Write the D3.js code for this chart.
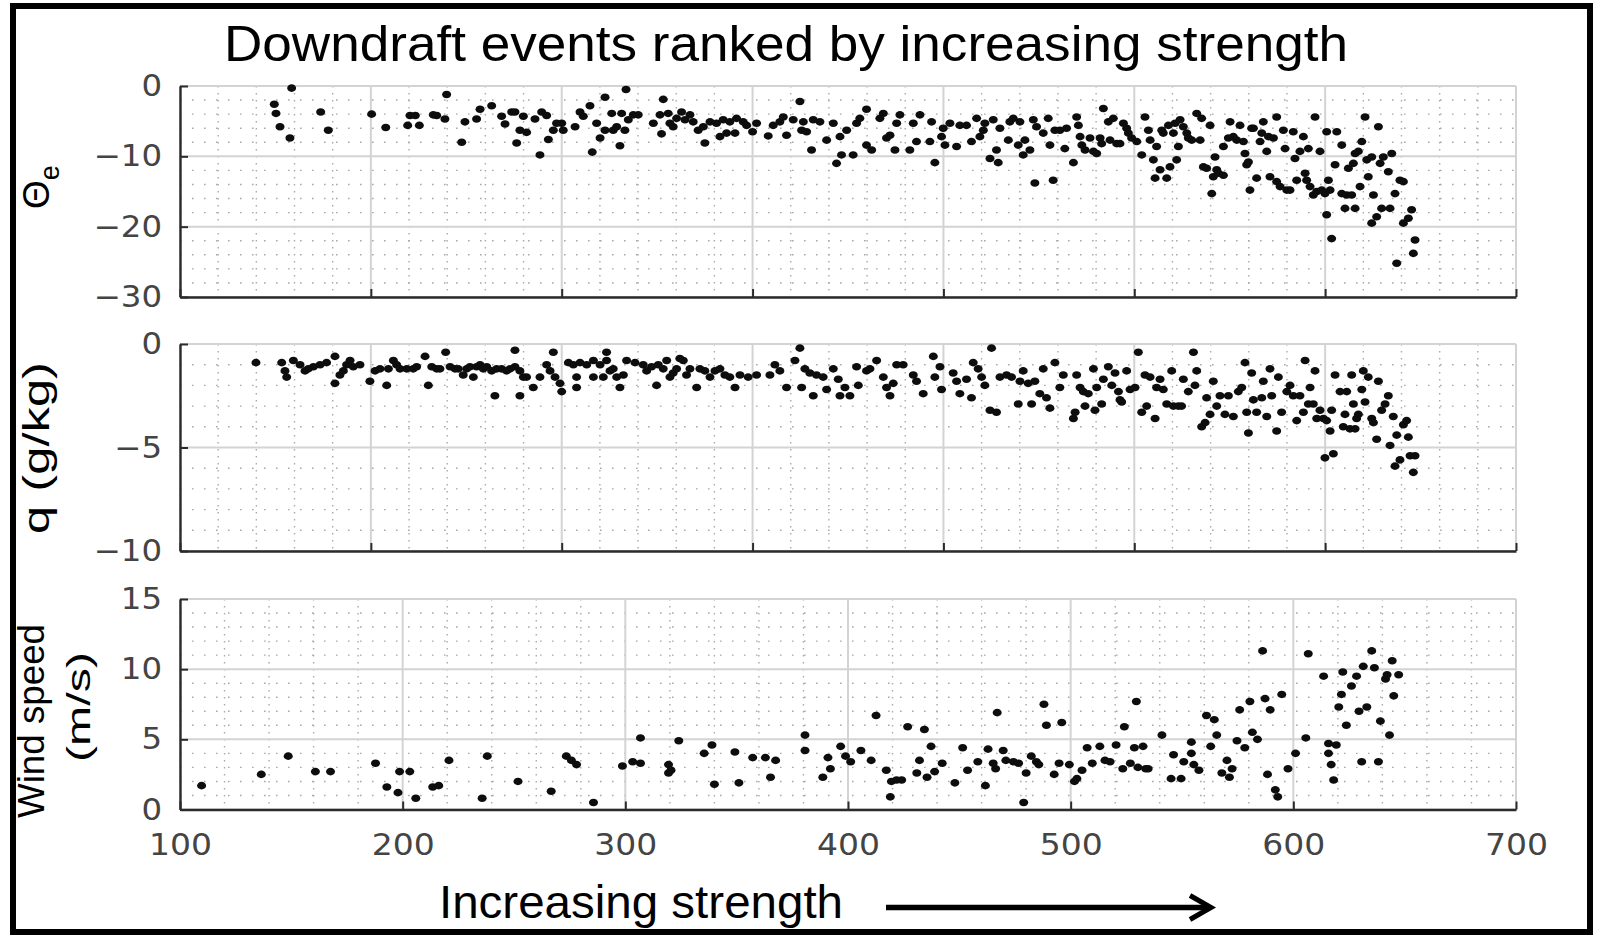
<!DOCTYPE html>
<html><head><meta charset="utf-8">
<script src="https://cdn.jsdelivr.net/npm/d3@7"></script>
<style>body{margin:0;background:#fff} svg{display:block}</style>
</head><body>
<svg id="c" width="1597" height="937"></svg>
<script>
// ---------- DATA ----------
const titleText = "Downdraft events ranked by increasing strength";
const xTitleText = "Increasing strength";
const thetaTicks = [0, -10, -20, -30];
const qTicks = [0, -5, -10];
const windTicks = [0, 5, 10, 15];
const indexTicks = [0, 100, 200, 300, 400, 500, 600, 700];
const windXTicks = [100, 200, 300, 400, 500, 600, 700];

const thetaPoints = [
[49.4,-2.6],[50.3,-3.9],[52.4,-5.8],[57.6,-7.4],[58.5,-0.3],[73.7,-3.7],[77.7,-6.3],[100.4,-4.0],[107.8,-5.9],[119.3,-5.6],[120.5,-4.2],[123.3,-4.2],[125.4,-5.6],[132.7,-4.1],[134.5,-4.2],[138.8,-4.7],[139.7,-1.2],[147.6,-8.0],[149.3,-5.1],[155.4,-4.7],[157.2,-3.3],[163.3,-2.8],[168.5,-4.3],[170.3,-5.4],[173.8,-3.7],[175.5,-3.7],[176.4,-8.1],[178.1,-6.3],[179.9,-4.3],[181.6,-6.6],[186.0,-4.7],[188.6,-9.8],[189.5,-3.7],[192.1,-4.2],[193.0,-7.6],[195.6,-6.3],[197.3,-5.3],[200.0,-5.3],[200.8,-6.3],[207.0,-5.8],[209.6,-3.7],[211.3,-4.3],[214.8,-2.8],[216.0,-9.4],[218.3,-5.3],[220.1,-7.4],[222.7,-1.6],[222.7,-6.3],[226.2,-3.9],[227.0,-6.3],[228.8,-5.8],[230.5,-8.5],[231.4,-3.9],[233.1,-6.3],[233.7,-0.5],[234.9,-4.8],
[237.5,-4.1],[240.1,-4.1],[248.0,-5.3],[251.5,-4.1],[253.2,-1.9],[252.3,-6.8],[255.8,-3.9],[256.7,-5.3],[258.4,-5.8],[260.2,-4.6],[262.8,-3.7],[264.6,-4.8],[267.2,-4.1],[268.9,-5.1],[271.5,-6.3],[274.2,-5.8],[275.0,-8.1],[277.7,-5.1],[281.1,-5.3],[282.9,-7.2],[284.6,-4.8],[286.4,-6.7],[288.1,-5.1],[290.8,-6.7],[291.6,-4.6],[295.1,-5.1],[296.9,-5.6],[300.0,-6.5],[302.1,-5.3],[308.2,-7.1],[310.8,-5.6],[314.3,-5.1],[316.1,-4.4],[317.8,-7.0],[321.3,-4.8],[324.8,-2.2],[325.7,-6.3],[326.6,-5.1],[328.3,-6.5],[330.9,-9.1],[331.8,-4.8],[335.3,-5.1],[338.8,-7.7],[342.3,-5.3],[344.0,-11.0],[345.8,-7.2],[346.6,-9.8],[349.3,-6.3],[352.7,-9.8],[354.5,-5.3],[356.2,-4.6],[359.7,-3.3],[359.7,-8.4],[362.4,-9.1],[366.7,-4.6],[368.5,-3.9],[370.2,-7.4],[372.0,-7.0],[374.6,-9.1],[375.5,-5.3],[377.2,-4.1],[382.4,-9.1],[384.2,-5.3],[385.9,-7.9],[387.7,-4.1],[392.9,-7.9],[393.8,-5.1],[395.5,-10.9],[399.0,-7.2],[399.9,-6.0],[400.8,-8.4],[403.4,-5.3],[406.9,-8.6],[408.6,-5.6],[412.1,-5.6],[414.7,-7.9],[417.4,-4.6],[419.1,-7.2],[420.9,-6.3],[421.7,-5.3],[424.4,-10.3],[426.1,-4.8],[427.8,-9.1],[428.7,-10.9],[429.6,-6.0],[434.0,-7.7],[434.8,-5.1],[436.6,-4.6],[439.2,-8.4],[440.1,-5.1],[441.8,-9.8],[442.7,-7.7],[445.3,-9.1],[447.1,-4.8],[447.9,-13.8],[448.8,-5.8],[452.3,-6.7],[454.9,-4.6],[455.8,-8.4],[457.5,-13.4],[458.4,-6.3],[461.0,-6.3],[463.6,-8.9],[464.5,-6.0],
[468.1,-10.9],[469.8,-4.4],[470.7,-5.6],[471.6,-7.2],[472.5,-8.4],[474.2,-9.1],[476.8,-7.4],[478.6,-9.3],[480.3,-9.6],[482.1,-7.4],[482.9,-8.2],[483.8,-3.2],[486.4,-5.1],[487.3,-7.7],[489.0,-4.6],[490.8,-8.2],[492.5,-8.2],[494.3,-5.3],[496.0,-6.0],[496.9,-6.7],[498.6,-7.4],[501.3,-7.9],[503.9,-9.8],[505.6,-4.4],[507.4,-6.3],[508.3,-7.7],[510.0,-10.5],[510.9,-13.1],[511.7,-8.6],[513.5,-11.9],[514.4,-6.3],[515.2,-6.7],[517.0,-13.1],[517.9,-5.6],[518.7,-11.5],[520.5,-6.7],[521.4,-5.3],[522.2,-10.5],[523.1,-8.6],[524.0,-4.8],[525.7,-5.8],[527.5,-6.7],[528.3,-7.4],[530.1,-7.7],[532.7,-3.9],[534.5,-7.7],[535.3,-4.6],[536.2,-11.5],[537.9,-11.7],[539.7,-5.6],[540.6,-15.3],[541.4,-12.9],[542.3,-10.1],[543.2,-11.9],[544.1,-12.4],[546.7,-12.7],[546.7,-8.6],[549.3,-7.4],[550.2,-5.1],[551.9,-7.2],[553.7,-7.7],[555.4,-5.6],[557.2,-7.9],[558.0,-9.6],[558.9,-11.2],[559.8,-10.8],[560.6,-14.8],[561.5,-6.0],[562.4,-6.0],[564.1,-13.1],[565.9,-7.9],[566.8,-6.7],[567.6,-5.1],[569.4,-9.3],[570.3,-7.2],[571.1,-12.9],[572.9,-7.4],[574.6,-4.4],[574.6,-13.6],[576.4,-14.3],[578.1,-6.3],[579.0,-8.9],[579.9,-14.8],[581.6,-14.8],[583.3,-6.5],[584.2,-10.3],[585.1,-13.4],[586.8,-9.3],[588.6,-7.2],[589.5,-12.4],[590.3,-13.4],[591.2,-8.9],[592.1,-14.3],[593.8,-15.5],[594.7,-4.4],[595.6,-15.0],[597.3,-9.3],[598.2,-14.8],[599.9,-15.3],[600.8,-6.5],[600.8,-18.3],[601.7,-13.4],[602.6,-14.8],[603.4,-21.7],[605.2,-11.2],[606.1,-6.5],[608.7,-8.4],[608.7,-15.3],[610.4,-17.4],[611.3,-15.5],[612.2,-11.7],[613.9,-15.5],[614.8,-11.0],[615.7,-17.4],[615.7,-9.6],[617.4,-9.3],[618.3,-14.3],[619.2,-7.9],[620.9,-4.4],[621.8,-10.5],[622.6,-12.9],[624.4,-10.1],[624.4,-19.5],[625.3,-15.5],[627.0,-18.6],[627.9,-5.8],[628.8,-11.0],[629.6,-17.4],[630.5,-10.1],[633.1,-12.2],[634.0,-17.4],[634.9,-9.6],[636.6,-15.3],[637.5,-25.2],[639.2,-13.4],[641.0,-13.6],[641.0,-19.5],[643.6,-18.8],[645.3,-17.6],[646.2,-23.8],[647.1,-21.9]
];

const qPoints = [
[39.8,-0.9],[53.3,-0.9],[55.0,-1.3],[55.9,-1.6],[59.4,-0.8],[62.9,-1.0],[65.5,-1.3],[67.2,-1.2],[69.9,-1.1],[73.4,-1.0],[76.8,-0.9],[81.2,-0.6],[81.2,-1.9],[83.8,-1.5],[85.6,-1.3],[87.3,-1.0],[89.1,-0.8],[90.8,-1.1],[94.3,-1.0],[99.5,-1.8],[102.2,-1.3],[104.8,-1.2],[108.3,-2.0],[109.2,-1.2],[111.8,-0.8],[113.5,-1.0],[115.3,-1.2],[118.8,-1.2],[122.2,-1.2],[124.0,-1.1],[128.4,-0.6],[130.1,-2.0],[131.9,-1.1],[134.5,-1.2],[136.2,-1.2],[139.2,-0.4],[141.5,-1.1],[144.1,-1.2],[145.8,-1.2],[148.4,-1.5],[150.2,-1.2],[151.9,-1.1],[153.7,-1.6],[155.4,-1.1],[157.2,-1.0],[158.9,-1.2],[160.7,-1.1],[163.3,-1.3],[165.0,-2.5],[165.9,-1.2],[168.5,-1.2],[171.1,-1.3],[172.9,-1.2],[175.5,-0.3],[175.5,-1.1],[178.1,-1.3],[178.1,-2.5],[179.9,-1.6],[181.6,-1.6],[185.1,-2.1],[188.6,-1.6],[192.1,-1.0],[193.9,-1.3],[195.6,-0.4],[196.5,-1.6],[199.1,-1.9],[200.0,-2.3],[203.5,-0.9],[206.1,-1.0],[207.8,-1.6],[207.8,-2.1],[209.6,-0.9],[213.1,-1.0],[216.6,-0.8],[216.6,-1.6],[220.1,-1.0],[221.8,-1.6],[223.5,-0.4],[223.5,-0.8],[225.3,-1.3],[227.0,-1.2],[228.8,-1.6],[230.5,-2.1],[232.3,-1.5],[234.0,-0.8],
[238.4,-0.9],[242.7,-1.0],[244.5,-1.3],[247.1,-1.1],[249.7,-2.0],[250.6,-1.0],[253.2,-1.2],[255.0,-0.8],[256.7,-1.6],[258.4,-1.4],[260.2,-1.2],[261.9,-0.7],[263.7,-0.8],[265.4,-1.5],[267.2,-1.2],[270.7,-2.1],[272.4,-1.2],[275.0,-1.3],[277.7,-1.6],[280.3,-1.3],[282.9,-1.2],[285.5,-1.5],[288.1,-1.6],[290.8,-2.1],[293.4,-1.5],[297.7,-1.6],[302.1,-1.5],[309.1,-1.5],[311.7,-1.0],[314.3,-1.3],[317.8,-2.1],[322.2,-0.8],[324.8,-0.2],[325.7,-2.1],[327.4,-1.2],[330.0,-1.4],[331.8,-2.5],[333.5,-1.5],[337.0,-1.6],[338.8,-2.2],[342.3,-1.2],[344.9,-1.7],[345.8,-2.5],[348.4,-2.1],[351.0,-2.5],[354.5,-1.1],[355.4,-2.0],[359.7,-1.3],[361.5,-1.2],[365.0,-0.8],[368.5,-1.6],[370.2,-2.1],[372.0,-2.5],[373.7,-1.9],[375.5,-1.0],[378.9,-1.0],[384.2,-1.5],[385.9,-1.8],[389.4,-2.4],[394.7,-0.6],[395.5,-1.6],[398.2,-1.1],[399.0,-2.2],[405.1,-1.4],[406.9,-1.8],[408.6,-2.4],[412.1,-1.7],[414.7,-2.6],[415.6,-0.9],[418.2,-1.2],[420.0,-1.6],[421.7,-2.0],[424.4,-3.2],[425.2,-0.2],[427.8,-3.3],[429.6,-1.6],[433.1,-1.5],[435.7,-1.6],[439.2,-2.9],[440.1,-1.8],[441.8,-1.3],[444.4,-1.9],[446.2,-2.9],[447.9,-1.8],[450.5,-2.4],[452.3,-1.2],[454.0,-2.6],[455.8,-3.1],[458.4,-0.9],[461.0,-2.1],[462.8,-1.5],
[468.1,-3.6],[469.0,-3.3],[469.8,-1.5],[471.6,-2.1],[473.3,-2.3],[474.2,-3.0],[475.9,-2.4],[478.6,-1.2],[479.4,-3.2],[480.3,-2.1],[482.9,-2.9],[483.8,-1.7],[486.4,-1.1],[488.2,-2.0],[489.9,-1.4],[491.7,-2.3],[492.5,-2.7],[493.4,-2.8],[496.0,-1.3],[497.8,-2.2],[500.4,-2.1],[502.1,-0.4],[503.9,-3.3],[505.6,-1.5],[506.5,-3.0],[508.3,-1.6],[510.9,-3.6],[511.7,-2.1],[513.5,-1.7],[515.2,-2.2],[517.0,-2.9],[519.6,-1.3],[520.5,-3.0],[523.1,-3.0],[524.8,-3.0],[525.7,-1.7],[528.3,-2.3],[531.0,-0.4],[531.8,-2.0],[532.7,-1.3],[535.3,-4.0],[537.1,-3.8],[537.9,-2.6],[539.7,-3.4],[541.4,-1.8],[543.2,-3.0],[544.9,-2.5],[547.5,-3.4],[549.3,-2.5],[551.9,-3.5],[554.5,-2.3],[556.3,-2.1],[558.0,-0.9],[558.9,-3.3],[559.8,-4.3],[561.5,-1.4],[562.4,-2.7],[564.1,-3.3],[566.8,-2.6],[567.6,-1.8],[569.4,-3.5],[571.1,-1.2],[572.0,-2.5],[574.6,-4.2],[575.5,-1.6],[577.2,-3.3],[579.9,-2.3],[581.6,-2.0],[583.3,-2.5],[585.1,-3.7],[586.8,-2.5],[588.6,-3.3],[589.5,-0.8],[591.2,-2.9],[592.1,-2.1],[593.8,-2.9],[594.7,-1.3],[595.6,-3.6],[597.3,-3.2],[599.1,-3.6],[599.9,-5.5],[600.8,-3.7],[602.6,-4.2],[603.4,-3.2],[604.3,-5.3],[605.2,-1.5],[607.8,-2.3],[609.5,-4.0],[610.4,-3.4],[611.3,-2.3],[613.0,-4.1],[613.9,-1.5],[614.8,-2.9],[615.7,-4.1],[616.5,-3.6],[617.4,-3.4],[619.2,-2.2],[620.0,-1.3],[620.9,-2.8],[622.6,-1.6],[624.4,-3.6],[625.3,-3.8],[627.0,-4.6],[627.9,-1.8],[629.6,-3.2],[631.4,-2.9],[633.1,-2.5],[634.0,-4.9],[635.7,-3.5],[636.6,-5.9],[637.5,-4.4],[639.2,-5.6],[641.0,-3.9],[642.7,-3.7],[643.6,-4.5],[644.5,-5.4],[646.2,-6.2],[647.1,-5.4]
];

const windPoints = [
[109.7,1.7],[136.5,2.5],[148.6,3.8],[160.8,2.7],[167.6,2.7],[187.8,3.3],[192.9,1.6],[197.9,1.2],[198.6,2.7],[203.2,2.7],[205.9,0.8],[213.5,1.6],[216.2,1.7],[220.8,3.5],[235.7,0.8],[238.0,3.8],[251.8,2.0],[266.7,1.3],[273.5,3.8],[275.8,3.5],[278.1,3.2],[285.7,0.5],[298.7,3.1],[303.3,3.4],[306.8,5.1],[306.8,3.3],[319.4,3.2],[319.4,2.6],[320.5,2.8],[324.0,4.9],[335.4,4.0],[338.9,4.6],[340.0,1.8],[349.2,4.1],[351.0,1.9],[357.2,3.7],[362.9,3.7],[365.2,2.3],[367.5,3.5],
[380.7,5.3],[380.7,4.2],[388.7,2.3],[391.0,3.7],[392.1,2.9],[396.7,4.5],[398.9,3.8],[401.2,3.4],[405.8,4.2],[410.4,3.5],[412.6,6.7],[417.2,2.8],[419.0,0.9],[419.5,2.0],[421.8,2.1],[424.1,2.1],[426.8,5.9],[430.9,2.6],[432.1,3.5],[434.3,5.7],[435.5,2.3],[437.3,4.5],[438.9,2.7],[442.3,3.3],[448.0,1.9],[451.5,4.4],[453.7,2.8],[458.3,3.4],[461.7,1.7],[462.9,4.3],[465.2,3.3],[466.3,2.9],[467.0,6.9],[469.7,4.2],[470.9,3.5],[474.3,3.4],[476.6,3.3],[478.9,0.5],[480.0,2.6],[482.3,3.8],[484.6,3.4],[485.7,3.2],[488.0,7.5],[489.1,6.0],[492.6,2.5],[494.8,3.3],[496.0,6.2],[499.4,3.2],[501.7,2.0],[502.8,2.2],[505.1,2.8],[507.4,4.4],[509.7,3.3],[513.1,4.5],[515.4,3.5],[517.7,3.4],[520.4,4.6],[523.4,2.9],[524.1,5.9],[526.8,3.3],[528.6,4.4],[529.5,7.7],[530.2,3.0],[532.5,4.5],[533.7,2.9],[534.8,2.9],[541.0,5.3],[545.1,2.2],[546.2,3.9],[549.6,2.2],[550.8,3.4],[554.2,4.8],[554.2,4.0],[555.3,3.2],[557.6,2.8],[561.0,6.7],[562.9,4.5],[564.5,6.4],[565.6,5.3],[567.9,2.6],[570.2,3.5],[571.3,2.3],[572.5,2.9],[574.7,4.9],[575.9,7.1],[578.2,4.4],[580.5,7.7],[581.6,5.5],[583.9,5.0],[586.2,11.3],[587.3,7.9],[588.4,2.5],[589.6,7.1],[591.9,1.4],[593.0,0.9],[594.8,8.2],[597.6,2.9],[601.0,4.0],[605.6,5.1],[606.7,11.1],[613.6,9.5],[615.8,4.7],[615.8,4.0],[617.0,3.2],[618.1,2.1],[619.3,4.6],[620.4,7.3],[621.6,8.2],[622.2,9.8],[623.8,6.0],[626.1,8.8],[628.4,9.5],[629.5,7.0],[630.7,3.4],[631.4,10.2],[633.0,7.3],[635.2,11.3],[636.4,10.1],[638.2,3.4],[639.1,6.3],[641.4,9.3],[642.1,9.6],[643.2,5.3],[644.4,10.6],[645.1,8.1],[647.3,9.6]
];

// ---------- DRAWING ----------
const svg = d3.select('#c');
const L = 180, R = 1516;
const AX = '#2b2b2b', GRID = '#d3d3d3', MINOR = '#a9a9a9', LABEL = '#444';

svg.append('rect').attr('x',0).attr('y',0).attr('width',1597).attr('height',937).attr('fill','#fff');

const panels = [
  {pts: thetaPoints, xd:[0,700], yd:[-30,0], top:86, bot:297, yt:thetaTicks, ymin:2, xt:indexTicks, labels:false},
  {pts: qPoints, xd:[0,700], yd:[-10,0], top:344, bot:551, yt:qTicks, ymin:1, xt:indexTicks, labels:false},
  {pts: windPoints, xd:[100,700], yd:[0,15], top:599, bot:809.5, yt:windTicks, ymin:1, xt:windXTicks, labels:true}
];

function stretch(sel, k) {
  sel.each(function() {
    const w = this.getComputedTextLength();
    if (w > 0) d3.select(this).attr('textLength', w * k).attr('lengthAdjust', 'spacingAndGlyphs');
  });
}

panels.forEach(p => {
  const x = d3.scaleLinear().domain(p.xd).range([L, R]);
  const y = d3.scaleLinear().domain(p.yd).range([p.bot, p.top]);
  const g = svg.append('g');

  const yMinor = d3.range(p.yd[0], p.yd[1] + 1e-9, p.ymin).filter(v => !p.yt.includes(v));
  g.append('g').selectAll('line').data(yMinor).join('line')
    .attr('x1', L).attr('x2', R).attr('y1', d => y(d)).attr('y2', d => y(d))
    .attr('stroke', MINOR).attr('stroke-width', 1.4).attr('stroke-dasharray', '1.6,10.4');
  const xMinor = d3.range(p.xd[0], p.xd[1] + 1e-9, 20).filter(v => v % 100 !== 0);
  g.append('g').selectAll('line').data(xMinor).join('line')
    .attr('x1', d => x(d)).attr('x2', d => x(d)).attr('y1', p.top).attr('y2', p.bot)
    .attr('stroke', MINOR).attr('stroke-width', 1.4).attr('stroke-dasharray', '1.6,5.4');

  g.append('g').selectAll('line').data(p.yt).join('line')
    .attr('x1', L).attr('x2', R).attr('y1', d => y(d)).attr('y2', d => y(d))
    .attr('stroke', GRID).attr('stroke-width', 2);
  g.append('g').selectAll('line').data(p.xt).join('line')
    .attr('x1', d => x(d)).attr('x2', d => x(d)).attr('y1', p.top).attr('y2', p.bot)
    .attr('stroke', GRID).attr('stroke-width', 2);

  // dots
  g.append('g').selectAll('ellipse').data(p.pts).join('ellipse')
    .attr('cx', d => x(d[0])).attr('cy', d => y(d[1]))
    .attr('rx', 4.5).attr('ry', 3.8).attr('fill', '#0d0d0d');

  // left axis
  const ay = d3.axisLeft(y).tickValues(p.yt).tickSizeInner(-8).tickSizeOuter(0).tickPadding(18);
  const gy = g.append('g').attr('transform', `translate(${L},0)`).call(ay);
  gy.select('.domain').attr('stroke', AX).attr('stroke-width', 2.4);
  gy.selectAll('.tick line').attr('stroke', AX).attr('stroke-width', 2);
  gy.selectAll('text').attr('font-family', 'DejaVu Sans').attr('font-size', 30).attr('fill', LABEL);
  stretch(gy.selectAll('text'), 1.08);

  // bottom axis
  const ax = d3.axisBottom(x).tickValues(p.xt).tickSizeInner(-8).tickSizeOuter(0).tickPadding(24);
  if (!p.labels) ax.tickFormat(() => '');
  const gx = g.append('g').attr('transform', `translate(0,${p.bot})`).call(ax);
  gx.select('.domain').attr('stroke', AX).attr('stroke-width', 2.4);
  gx.selectAll('.tick line').attr('stroke', AX).attr('stroke-width', 2);
  gx.selectAll('text').attr('font-family', 'DejaVu Sans').attr('font-size', 30).attr('fill', LABEL);
  stretch(gx.selectAll('text'), 1.1);
});

// title
svg.append('text').attr('x', 224).attr('y', 61)
  .attr('font-family', 'Liberation Sans, Arial, sans-serif').attr('font-size', 50)
  .attr('textLength', 1124).attr('lengthAdjust', 'spacingAndGlyphs').text(titleText);

// x title + arrow
svg.append('text').attr('x', 439).attr('y', 918)
  .attr('font-family', 'Liberation Sans, Arial, sans-serif').attr('font-size', 47)
  .attr('textLength', 404).attr('lengthAdjust', 'spacingAndGlyphs').text(xTitleText);
svg.append('line').attr('x1', 886).attr('x2', 1207).attr('y1', 907.5).attr('y2', 907.5)
  .attr('stroke', '#000').attr('stroke-width', 5.5);
svg.append('polyline').attr('points', '1190,895.5 1211,907.5 1190,919.5')
  .attr('fill', 'none').attr('stroke', '#000').attr('stroke-width', 5).attr('stroke-linejoin', 'miter');

// y titles
const th = svg.append('text').attr('transform', 'translate(49,187) rotate(-90)')
  .attr('text-anchor', 'middle').attr('font-family', 'Liberation Sans, Arial, sans-serif').attr('font-size', 37);
th.append('tspan').text('Θ');
th.append('tspan').attr('font-size', 27).attr('dy', 10).text('e');

svg.append('text').attr('transform', 'translate(49,448) rotate(-90)')
  .attr('text-anchor', 'middle').attr('font-family', 'Liberation Sans, Arial, sans-serif').attr('font-size', 37)
  .attr('textLength', 172).attr('lengthAdjust', 'spacingAndGlyphs').text('q (g/kg)');

svg.append('text').attr('transform', 'translate(44,721) rotate(-90)')
  .attr('text-anchor', 'middle').attr('font-family', 'Liberation Sans, Arial, sans-serif').attr('font-size', 36)
  .attr('textLength', 194).attr('lengthAdjust', 'spacingAndGlyphs').text('Wind speed');
svg.append('text').attr('transform', 'translate(90,707) rotate(-90)')
  .attr('text-anchor', 'middle').attr('font-family', 'Liberation Sans, Arial, sans-serif').attr('font-size', 34)
  .attr('textLength', 110).attr('lengthAdjust', 'spacingAndGlyphs').text('(m/s)');

// outer frame
svg.append('rect').attr('x', 13).attr('y', 6).attr('width', 1577).attr('height', 926)
  .attr('fill', 'none').attr('stroke', '#000').attr('stroke-width', 6);
</script>
</body></html>
